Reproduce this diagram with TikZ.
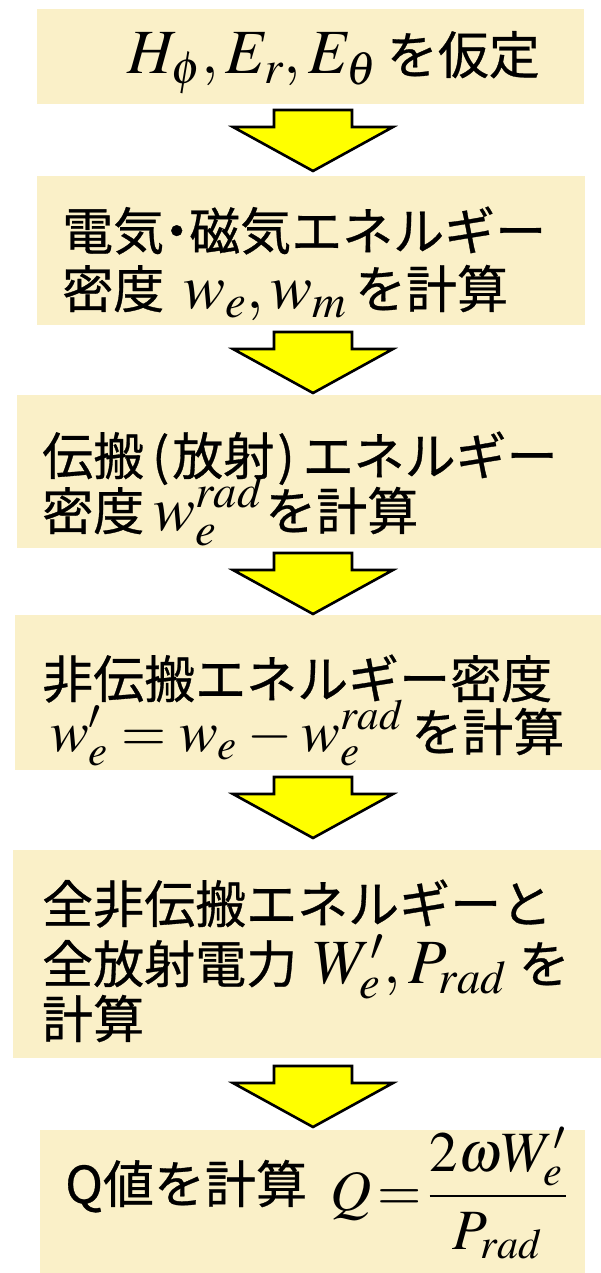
\documentclass[tikz,border=0pt]{standalone}
\usepackage{amsmath}
\usepackage{mathptmx}
\usepackage{fontspec}
\newfontfamily\jp[BoldFont={Noto Sans CJK JP},BoldFeatures={FakeBold=0.6}]{Noto Sans CJK JP}
\definecolor{boxfill}{HTML}{FAF0C8}
\definecolor{arrowfill}{HTML}{FFFF00}
\newcommand{\mth}[2][63]{{\fontsize{#1}{#1}\selectfont$\thickmuskip=2mu\medmuskip=1.5mu #2$}}
\newcommand{\mthw}[2][58]{{\fontsize{#1}{#1}\selectfont$\thickmuskip=4mu\medmuskip=3mu #2$}}
\newcommand{\jpdot}{\kern-13pt・\kern-13pt}
\tikzset{
  stepbox/.style={fill=boxfill, draw=none, inner sep=0pt, anchor=north west},
  txt/.style={anchor=base west, inner sep=0pt, text height=36pt, text depth=10pt,
    font=\jp\bfseries\fontsize{51}{58}\selectfont},
  blockarrow/.pic={
    \draw[fill=arrowfill, line width=2.6pt, line join=miter]
      (-39,0) -- (39,0) -- (39,17) -- (80,17) -- (0,61) -- (-80,17) -- (-39,17) -- cycle;
  }
}
\begin{document}
\begin{tikzpicture}[x=1pt,y=-1pt]
\useasboundingbox[fill=white] (0,0) rectangle (601,1273);
% boxes
\node[stepbox, minimum width=547pt, minimum height=95pt]  (b1) at (37,9) {};
\node[stepbox, minimum width=548pt, minimum height=149pt] (b2) at (37,176) {};
\node[stepbox, minimum width=594pt, minimum height=153pt] (b3) at (17,395) {};
\node[stepbox, minimum width=596pt, minimum height=155pt] (b4) at (15,615) {};
\node[stepbox, minimum width=598pt, minimum height=208pt] (b5) at (13,850) {};
\node[stepbox, minimum width=545pt, minimum height=150pt] (b6) at (40,1130) {};
% arrows
\pic (a1) at (313,110)  {blockarrow};
\pic (a2) at (313,332)  {blockarrow};
\pic (a3) at (313,553)  {blockarrow};
\pic (a4) at (313,777)  {blockarrow};
\pic (a5) at (313,1066) {blockarrow};
% texts
\node[txt] (t1)  at (127,74)   {\mth{H_\phi, E_r, E_\theta}\hspace{10pt}を仮定};
\node[txt] (t2a) at (62,250)   {電気{\jpdot}磁気エネルギー};
\node[txt] (t2b) at (62,308)   {密度\hspace{19pt}\mth{w_e, w_m}\hspace{8pt}を計算};
\node[txt] (t3a) at (42,475)   {伝搬\hspace{8pt}(\hspace{3pt}放射\hspace{3pt})\hspace{8pt}エネルギー};
\node[txt] (t3b) at (42,530)   {密度\hspace{9pt}\mth{w_e^{rad}}\hspace{2pt}を計算};
\node[txt] (t4a) at (42,698)   {非伝搬エネルギー密度};
\node[txt] (t4b) at (50,751)   {\mthw{w'_e = w_e - w_e^{rad}}\hspace{8pt}を計算};
\node[txt] (t5a) at (42,923)   {全非伝搬エネルギーと};
\node[txt] (t5b) at (42,983)   {全放射電力\hspace{16pt}\mth{W'_e, P_{rad}}\hspace{12pt}を};
\node[txt] (t5c) at (42,1038)  {計算};
\node[txt] (t6)  at (65,1203)  {Q値を計算};
\node[anchor=base west, inner sep=0pt] (t6m) at (330,1210) {\mth[57]{Q=\dfrac{2\omega W'_e}{P_{rad}}}};
\end{tikzpicture}
\end{document}
